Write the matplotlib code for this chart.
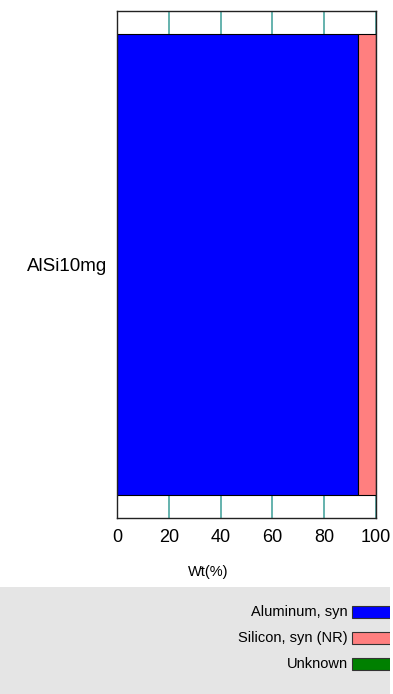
import matplotlib.pyplot as plt
from matplotlib.patches import Rectangle

plt.rcParams['font.family'] = ['Liberation Sans', 'DejaVu Sans']

# data
samples = ["AlSi10mg"]
phases = ["Aluminum, syn", "Silicon, syn (NR)", "Unknown"]
colors = ["#0000ff", "#ff7f7f", "#008000"]
wt = [[92.9], [7.1], [0.0]]
ticks = [0, 20, 40, 60, 80, 100]

fig = plt.figure(figsize=(3.93, 6.94), dpi=100)
ax = fig.add_axes([117/393, 1 - 518/694, 259/393, 507/694])

left = [0.0] * len(samples)
for name, vals, c in zip(phases, wt, colors):
    ax.barh(range(len(samples)), vals, left=left, height=0.91, color=c,
            edgecolor="black", linewidth=0.8, zorder=2)
    left = [l + v for l, v in zip(left, vals)]

ax.set_xlim(0, 100)
ax.set_ylim(-0.5, 0.5)
ax.set_xticks(ticks)
ax.set_xticklabels([str(t) for t in ticks], fontsize=13)
ax.set_yticks(range(len(samples)))
ax.set_yticklabels(samples, fontsize=13.5)
ax.tick_params(axis="x", length=0, pad=8)
ax.tick_params(axis="y", length=0, pad=7)
ax.grid(axis="x", color="#4aa6a0", linewidth=1.2, zorder=0)
ax.set_axisbelow(True)
for s in ax.spines.values():
    s.set_color("#222222")
    s.set_linewidth(1.0)

fig.text(208/393, 1 - 572/694, "Wt(%)", fontsize=10.5, ha="center", va="center")

# legend panel
lax = fig.add_axes([0, 0, 390/393, 107/694])
lax.set_facecolor("#e5e5e5")
lax.set_xlim(0, 390)
lax.set_ylim(107, 0)
for s in lax.spines.values():
    s.set_visible(False)
lax.set_xticks([])
lax.set_yticks([])
ys = [25, 51, 77]
for name, c, y in zip(phases, colors, ys):
    lax.add_patch(Rectangle((352, y - 6), 45, 12, facecolor=c,
                            edgecolor="#333333", linewidth=0.8, clip_on=True))
    lax.text(348, y, name, fontsize=10.5, ha="right", va="center")

fig.savefig("out.png", dpi=100)
